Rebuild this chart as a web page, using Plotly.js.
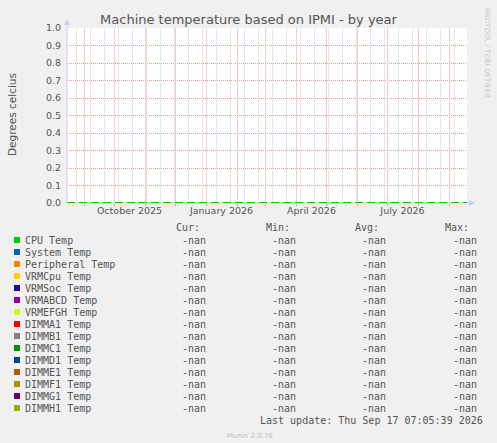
<!DOCTYPE html>
<html>
<head>
<meta charset="utf-8">
<script src="https://cdn.plot.ly/plotly-3.0.1.min.js"></script>
<style>
  html, body { margin: 0; padding: 0; background: #f0f0f0; }
  #plot { width: 497px; height: 443px; }
</style>
</head>
<body>
<div id="plot"></div>
<script>
// series shown in the legend table
const seriesNames = [
    "CPU Temp", "System Temp", "Peripheral Temp", "VRMCpu Temp", "VRMSoc Temp",
    "VRMABCD Temp", "VRMEFGH Temp", "DIMMA1 Temp", "DIMMB1 Temp", "DIMMC1 Temp",
    "DIMMD1 Temp", "DIMME1 Temp", "DIMMF1 Temp", "DIMMG1 Temp", "DIMMH1 Temp"
];
const seriesColors = [
    "#00cc00", "#0066b3", "#ff8000", "#ffcc00", "#330099",
    "#990099", "#ccff00", "#ff0000", "#808080", "#008f00",
    "#00487d", "#b35a00", "#b38f00", "#6b006b", "#8fb300"
];
// no samples in the period: every value is nan
const curValues = Array(15).fill("-nan");
const minValues = Array(15).fill("-nan");
const avgValues = Array(15).fill("-nan");
const maxValues = Array(15).fill("-nan");
const sampleTimes = ["2025-08-14 12:00", "2026-09-18 12:00"];
const sampleValues = [null, null];

const timeRange = ["2025-08-14 12:00", "2026-09-18 12:00"];
const labelDates = ["2025-10-16", "2026-01-16", "2026-04-16", "2026-07-16"];
const labelText = ["October 2025", "January 2026", "April 2026", "July 2026"];

// pixel -> paper helpers (plot area is 67..467 x 28..203)
const L = 67, R = 467, T = 28, B = 203;
const px = x => (x - L) / (R - L);
const py = y => (B - y) / (B - T);

const mono = "DejaVu Sans Mono, monospace";
const sans = "DejaVu Sans, sans-serif";

const traces = seriesNames.map((name, i) => ({
    type: "scatter",
    mode: "lines",
    name: name,
    x: sampleTimes,
    y: sampleValues,
    line: {color: seriesColors[i], width: 1},
    showlegend: false,
    hoverinfo: "skip"
}));
traces.push({type: "scatter", x: [], y: [], xaxis: "x2", showlegend: false});
traces.push({type: "scatter", x: [], y: [], xaxis: "x3", showlegend: false});

const annotations = [];
const shapes = [];

function text(x, y, t, opts) {
    annotations.push(Object.assign({
        xref: "paper", yref: "paper", x: px(x), y: py(y),
        text: t, showarrow: false, xanchor: "left", yanchor: "middle",
        borderpad: 0, borderwidth: 0,
        font: {family: mono, size: 10, color: "#555555"}
    }, opts || {}));
}

// legend header
text(176, 227, "Cur:");
text(266, 227, "Min:");
text(355, 227, "Avg:");
text(445, 227, "Max:");

seriesNames.forEach((name, i) => {
    const y = 240 + 12 * i;
    shapes.push({
        type: "rect", xref: "paper", yref: "paper",
        x0: px(14), x1: px(20), y0: py(y - 3), y1: py(y + 3),
        fillcolor: seriesColors[i], line: {width: 0}
    });
    text(25, y, name);
    text(182, y, curValues[i]);
    text(272, y, minValues[i]);
    text(362, y, avgValues[i]);
    text(453, y, maxValues[i]);
});

text(483, 420, "Last update: Thu Sep 17 07:05:39 2026", {xanchor: "right"});
text(250, 436, "Munin 2.0.76", {xanchor: "center", font: {family: sans, size: 7, color: "#c0c0c0"}});
text(487, 53, "RRDTOOL / TOBI OETIKER", {xanchor: "center", textangle: 90,
    font: {family: sans, size: 7, color: "#c8c8c8"}});
text(12, 114, "Degrees celcius", {xanchor: "center", textangle: -90,
    font: {family: sans, size: 10.5, color: "#555555"}});

// axis lines with arrows
shapes.push({type: "line", xref: "paper", yref: "paper",
    x0: px(67), x1: px(67), y0: py(203), y1: py(24), line: {color: "#ccccff", width: 1}});
shapes.push({type: "line", xref: "paper", yref: "paper",
    x0: px(67), x1: px(471), y0: py(203), y1: py(203), line: {color: "#ccccff", width: 1}});
shapes.push({type: "path", xref: "paper", yref: "paper",
    path: `M ${px(64)} ${py(25)} L ${px(70)} ${py(25)} L ${px(67)} ${py(19)} Z`,
    fillcolor: "#ccccff", line: {width: 0}});
shapes.push({type: "path", xref: "paper", yref: "paper",
    path: `M ${px(469)} ${py(200)} L ${px(469)} ${py(206)} L ${px(475)} ${py(203)} Z`,
    fillcolor: "#ccccff", line: {width: 0}});
// zero line
shapes.push({type: "line", xref: "paper", yref: "y",
    x0: px(67), x1: px(467), y0: 0, y1: 0, line: {color: "#00cc00", width: 2, dash: "8px,4px"}});

const layout = {
    width: 497,
    height: 443,
    margin: {l: L, r: 497 - R, t: T, b: 443 - B},
    paper_bgcolor: "#f0f0f0",
    plot_bgcolor: "#ffffff",
    title: {
        text: "Machine temperature based on IPMI - by year",
        font: {family: sans, size: 13, color: "#555555"},
        x: 0.5, xanchor: "center", y: 1 - 19 / 443, yanchor: "middle"
    },
    // two-week grid (drawn first, underneath)
    xaxis: {
        type: "date",
        range: timeRange,
        tickmode: "linear",
        dtick: 14 * 86400000,
        tick0: "2025-12-28",
        showticklabels: false,
        ticks: "",
        showgrid: true,
        gridcolor: "#e6e6e6",
        gridwidth: 1,
        zeroline: false,
        showline: false,
        fixedrange: true
    },
    // month grid
    xaxis3: {
        type: "date",
        overlaying: "x",
        anchor: "y",
        range: timeRange,
        tickmode: "linear",
        dtick: "M1",
        tick0: "2025-09-01",
        showticklabels: false,
        ticks: "outside",
        ticklen: 2,
        tickcolor: "#e8a0a0",
        showgrid: true,
        gridcolor: "#f3caca",
        gridwidth: 1,
        zeroline: false,
        showline: false
    },
    // quarter labels at mid month
    xaxis2: {
        type: "date",
        overlaying: "x",
        anchor: "y",
        side: "bottom",
        range: timeRange,
        tickmode: "array",
        tickvals: labelDates,
        ticktext: labelText,
        ticks: "",
        showgrid: false,
        zeroline: false,
        showline: false,
        tickfont: {family: sans, size: 9.5, color: "#555555"}
    },
    yaxis: {
        range: [0, 1],
        dtick: 0.1,
        tick0: 0,
        tickformat: ".1f",
        showgrid: true,
        gridcolor: "#e89a9a",
        griddash: "1px,1px",
        gridwidth: 1,
        zeroline: false,
        showline: false,
        ticks: "",
        ticklabelstandoff: 5,
        tickfont: {family: sans, size: 9.5, color: "#555555"},
        fixedrange: true
    },
    shapes: shapes,
    annotations: annotations,
    showlegend: false
};

Plotly.newPlot("plot", traces, layout, {staticPlot: true});
</script>
</body>
</html>
